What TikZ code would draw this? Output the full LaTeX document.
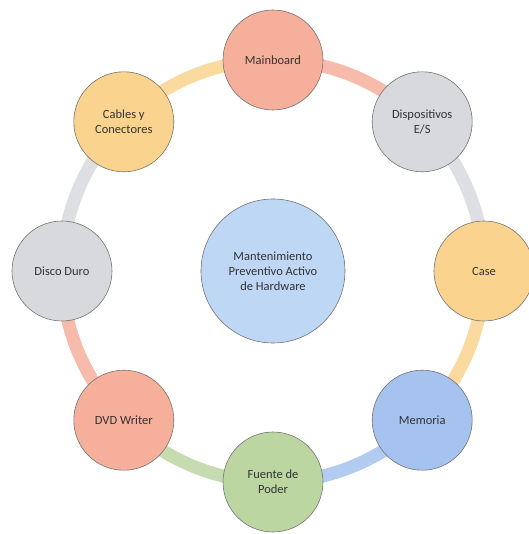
\documentclass[tikz,border=0pt]{standalone}
\usepackage{fontspec}
\setmainfont{Carlito}
\usetikzlibrary{backgrounds}

\definecolor{salmon}{RGB}{245,175,155}
\definecolor{greyc}{RGB}{216,217,221}
\definecolor{sand}{RGB}{250,212,142}
\definecolor{skyc}{RGB}{165,195,238}
\definecolor{sage}{RGB}{188,214,162}
\definecolor{hubc}{RGB}{190,215,245}

\tikzset{
  item/.style={circle, draw=black!55, line width=0.6pt, fill=#1,
    minimum size=100pt, inner sep=0pt, align=center,
    font=\fontsize{12.5}{15}\selectfont, text=black!80},
  hub/.style={item=hubc, minimum size=144pt},
  ring/.style={line width=13pt, draw=#1!85, looseness=0.886}
}

\begin{document}
\begin{tikzpicture}[x=1pt, y=1pt]
\useasboundingbox (-273,-263) rectangle (255,271);

% centre
\node[hub] (hw) at (0,0) {Mantenimiento\\Preventivo Activo\\de Hardware};

% outer ring of parts
\node[item=salmon] (mb)   at (90:211)  {Mainboard};
\node[item=greyc]  (io)   at (45:211)  {Dispositivos\\E/S};
\node[item=sand]   (case) at (0:211)   {Case};
\node[item=skyc]   (mem)  at (-45:211) {Memoria};
\node[item=sage]   (psu)  at (-90:211) {Fuente de\\Poder};
\node[item=salmon] (dvd)  at (-135:211) {DVD Writer};
\node[item=greyc]  (hdd)  at (180:211) {Disco Duro};
\node[item=sand]   (cab)  at (135:211) {Cables y\\Conectores};

% links between neighbours
\begin{scope}[on background layer]
\draw[ring=salmon] (mb.center) to[bend left=22.5] (io.center);
\draw[ring=greyc]  (io.center) to[bend left=22.5] (case.center);
\draw[ring=sand]   (case.center) to[bend left=22.5] (mem.center);
\draw[ring=skyc]   (mem.center) to[bend left=22.5] (psu.center);
\draw[ring=sage]   (psu.center) to[bend left=22.5] (dvd.center);
\draw[ring=salmon] (dvd.center) to[bend left=22.5] (hdd.center);
\draw[ring=greyc]  (hdd.center) to[bend left=22.5] (cab.center);
\draw[ring=sand]   (cab.center) to[bend left=22.5] (mb.center);
\end{scope}

\end{tikzpicture}
\end{document}
